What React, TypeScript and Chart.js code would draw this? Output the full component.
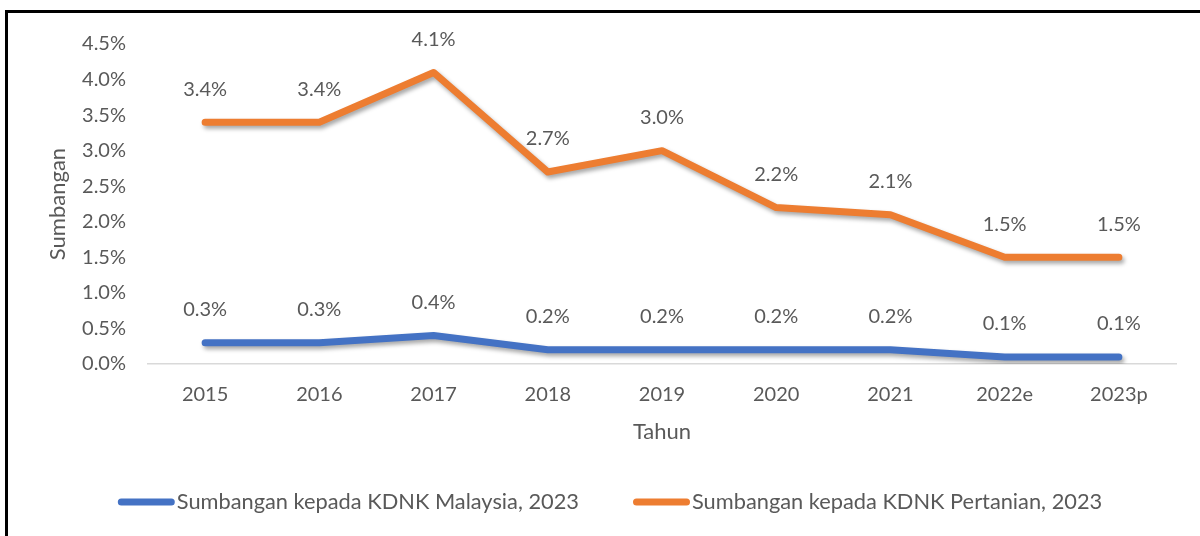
import React, { useEffect, useRef } from "react";
import { Chart, registerables } from "chart.js";

Chart.register(...registerables);

const categories = ["2015", "2016", "2017", "2018", "2019", "2020", "2021", "2022e", "2023p"];
const malaysiaValues = [0.3, 0.3, 0.4, 0.2, 0.2, 0.2, 0.2, 0.1, 0.1];
const pertanianValues = [3.4, 3.4, 4.1, 2.7, 3.0, 2.2, 2.1, 1.5, 1.5];
const seriesLabels = ["Sumbangan kepada KDNK Malaysia, 2023", "Sumbangan kepada KDNK Pertanian, 2023"];
const seriesColors = ["#4472C4", "#ED7D31"];
const yMin = 0;
const yMax = 4.5;
const yStep = 0.5;
const yTitle = "Sumbangan";
const xTitle = "Tahun";

const FONT = "Lato, 'Open Sans', sans-serif";
const TEXT = "#595959";
const FS = 20;
const TITLE_FS = 22;
const LEGEND_FS = 21.8;

const shadowPlugin = {
  id: "lineShadow",
  beforeDatasetDraw(chart: any) {
    const ctx = chart.ctx;
    ctx.save();
    ctx.shadowColor = "rgba(0,0,0,0.35)";
    ctx.shadowBlur = 4;
    ctx.shadowOffsetX = 2;
    ctx.shadowOffsetY = 3;
  },
  afterDatasetDraw(chart: any) {
    chart.ctx.restore();
  },
};

const labelsPlugin = {
  id: "valueLabels",
  afterDatasetsDraw(chart: any) {
    const ctx = chart.ctx;
    ctx.save();
    ctx.font = `${FS}px ${FONT}`;
    ctx.fillStyle = TEXT;
    ctx.textAlign = "center";
    ctx.textBaseline = "middle";
    chart.data.datasets.forEach((ds: any, i: number) => {
      const meta = chart.getDatasetMeta(i);
      meta.data.forEach((pt: any, j: number) => {
        const v = ds.data[j] as number;
        ctx.fillText(v.toFixed(1) + "%", pt.x, pt.y - 33);
      });
    });
    ctx.restore();
  },
};

const framePlugin = {
  id: "frameAndLegend",
  afterDraw(chart: any) {
    const ctx = chart.ctx;
    ctx.save();
    ctx.fillStyle = "#000";
    ctx.fillRect(5, 10, chart.width - 5, 3);
    ctx.fillRect(5, 10, 3, chart.height - 10);

    // legend
    ctx.font = `${LEGEND_FS}px ${FONT}`;
    const lineLen = 57;
    const gap = 2;
    const itemGap = 54;
    const widths = chart.data.datasets.map((ds: any) => lineLen + gap + ctx.measureText(ds.label).width);
    const total = widths.reduce((a: number, b: number) => a + b, 0) + itemGap * (widths.length - 1);
    let x = chart.width / 2 + 10 - total / 2;
    const y = 502;
    chart.data.datasets.forEach((ds: any, i: number) => {
      ctx.strokeStyle = ds.borderColor;
      ctx.lineWidth = 7;
      ctx.lineCap = "round";
      ctx.beginPath();
      ctx.moveTo(x + 3.5, y);
      ctx.lineTo(x + lineLen - 3.5, y);
      ctx.stroke();
      ctx.fillStyle = TEXT;
      ctx.textAlign = "left";
      ctx.textBaseline = "middle";
      ctx.fillText(ds.label, x + lineLen + gap, y);
      x += widths[i] + itemGap;
    });
    ctx.restore();
  },
};

export default function App() {
  const ref = useRef<HTMLCanvasElement>(null);
  useEffect(() => {
    document.body.style.margin = "0";
    const canvas = ref.current!;
    const chart = new Chart(canvas, {
      type: "line",
      data: {
        labels: categories,
        datasets: [
          {
            label: seriesLabels[0],
            data: malaysiaValues,
            borderColor: seriesColors[0],
            backgroundColor: seriesColors[0],
            borderWidth: 7,
            borderCapStyle: "round",
            borderJoinStyle: "round",
            pointRadius: 0,
            tension: 0,
          },
          {
            label: seriesLabels[1],
            data: pertanianValues,
            borderColor: seriesColors[1],
            backgroundColor: seriesColors[1],
            borderWidth: 7,
            borderCapStyle: "round",
            borderJoinStyle: "round",
            pointRadius: 0,
            tension: 0,
          },
        ],
      },
      options: {
        responsive: false,
        animation: false,
        layout: { padding: { top: 44, right: 24, bottom: 0, left: 0 } },
        plugins: {
          legend: { display: false },
          tooltip: { enabled: false },
        },
        scales: {
          x: {
            offset: true,
            grid: { display: false, drawTicks: false },
            border: { display: true, color: "#D9D9D9", width: 1.5 },
            ticks: { color: TEXT, font: { family: FONT, size: FS }, padding: 19, maxRotation: 0 },
            title: {
              display: true,
              text: xTitle,
              color: TEXT,
              font: { family: FONT, size: TITLE_FS },
              padding: { top: 0, bottom: 91 },
            },
            afterFit(scale: any) {
              scale.height = 172;
            },
          },
          y: {
            min: yMin,
            max: yMax,
            grid: { display: false, drawTicks: false },
            border: { display: false },
            ticks: {
              stepSize: yStep,
              color: TEXT,
              font: { family: FONT, size: FS },
              padding: 22,
              callback: (v: any) => Number(v).toFixed(1) + "%",
            },
            title: {
              display: true,
              text: yTitle,
              color: TEXT,
              font: { family: FONT, size: TITLE_FS },
              padding: { top: 45, bottom: 0 },
            },
            afterFit(scale: any) {
              scale.width = 148;
            },
          },
        },
      },
      plugins: [shadowPlugin, labelsPlugin, framePlugin],
    } as any);
    return () => chart.destroy();
  }, []);
  return (
    <div style={{ position: "absolute", left: 0, top: 0, width: 1200, height: 536, background: "#fff" }}>
      <canvas ref={ref} width={1200} height={536} />
    </div>
  );
}
